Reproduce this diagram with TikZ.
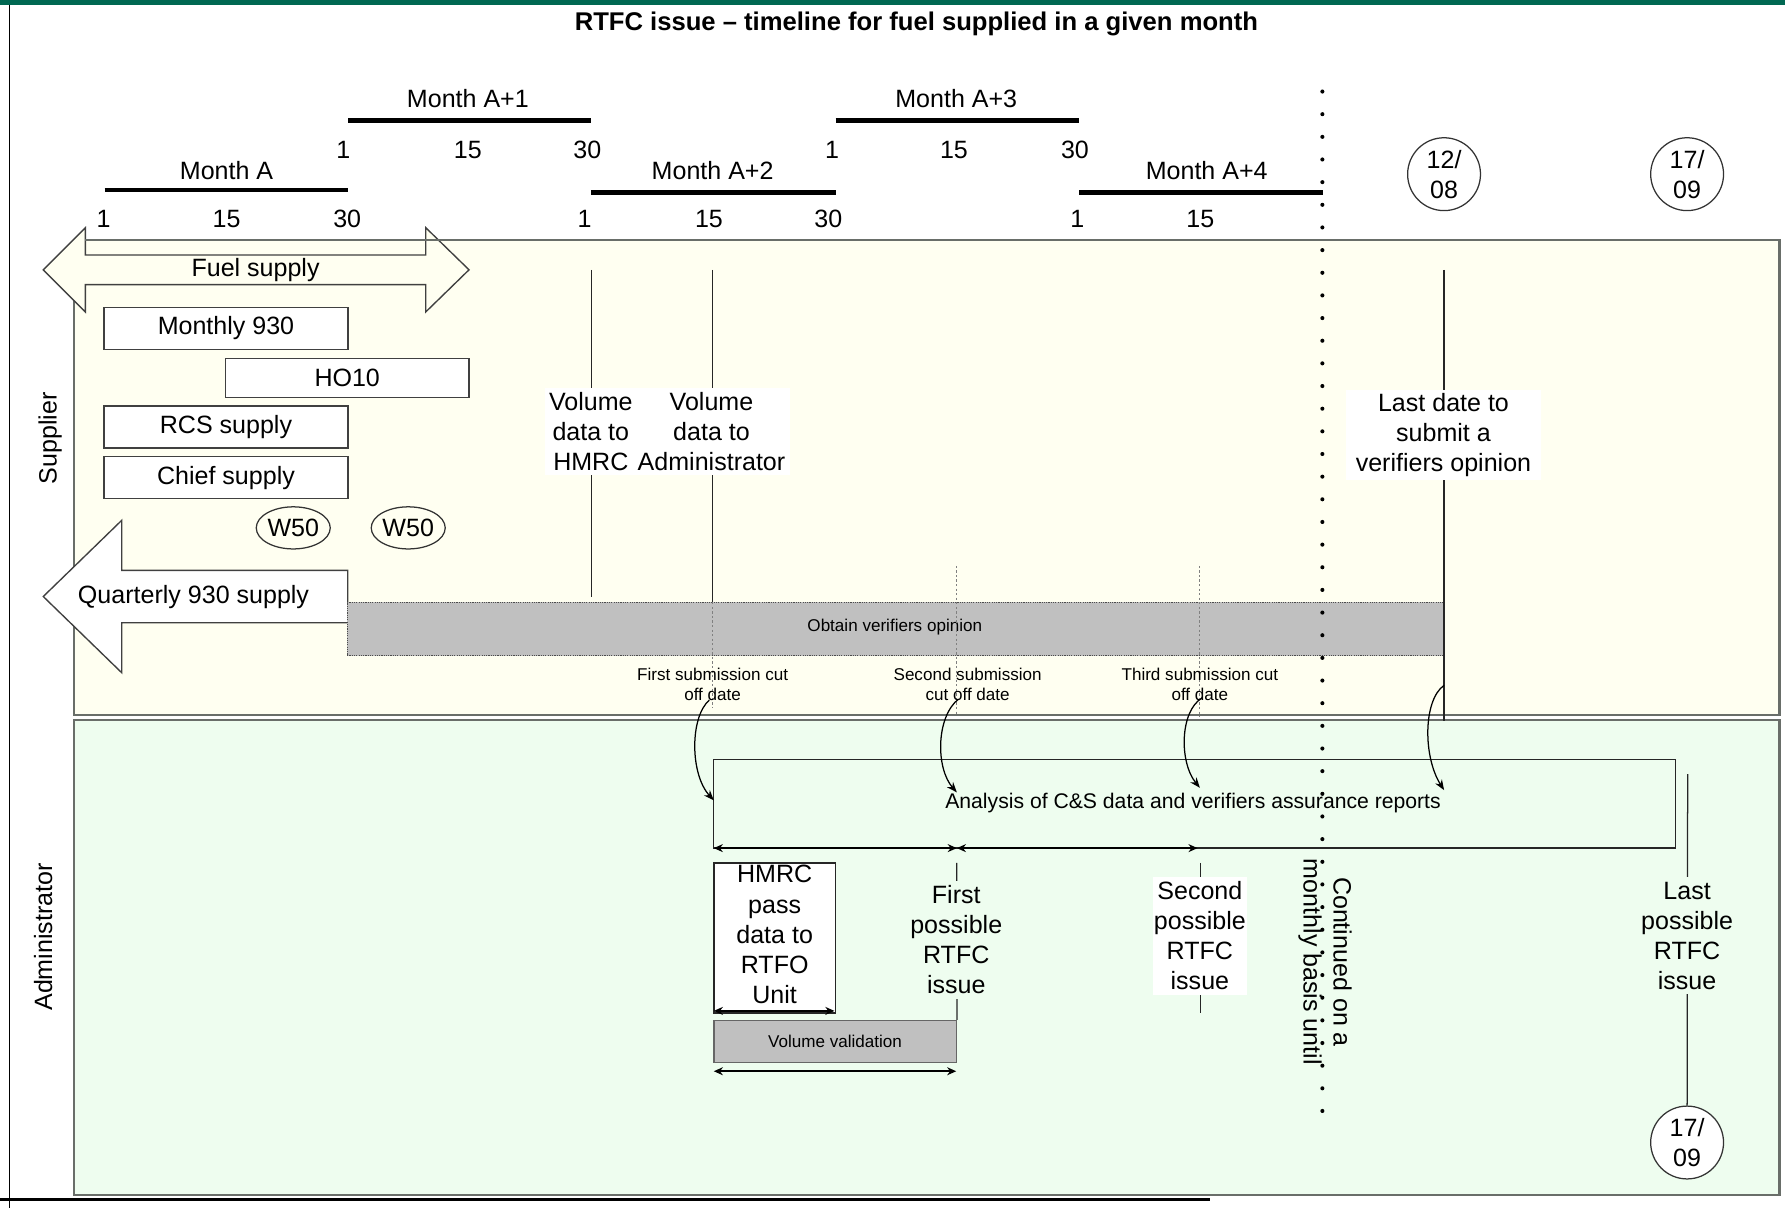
\documentclass[tikz,border=0pt]{standalone}
\usepackage{fontspec}
\setmainfont{Liberation Sans}
\usetikzlibrary{arrows.meta,shapes.geometric}
\definecolor{hdrgreen}{RGB}{0,104,82}
\definecolor{supfill}{RGB}{255,255,241}
\definecolor{admfill}{RGB}{238,253,239}
\definecolor{lanegray}{RGB}{105,110,105}
\definecolor{barfill}{RGB}{192,192,192}
\tikzset{
  lbl/.style={font=\fontsize{22}{26.5}\selectfont, inner sep=0pt, align=center},
  smalltxt/.style={font=\fontsize{15}{17.5}\selectfont, inner sep=0pt, align=center},
  midtxt/.style={font=\fontsize{18.6}{22}\selectfont, inner sep=0pt},
  lanebox/.style={draw=lanegray, line width=2.2pt, inner sep=0pt},
  monthbar/.style={line width=4pt},
  plainbox/.style={lbl, draw=black!75, line width=1.3pt, fill=white, minimum width=214pt},
  wcircle/.style={lbl, ellipse, draw=black!80, line width=1.1pt, minimum width=65pt, minimum height=37pt},
  datecircle/.style={lbl, circle, draw=black!80, line width=1.1pt, minimum size=64pt},
  blockarrow/.style={draw=black!75, line width=1.2pt},
  vline/.style={line width=1.1pt, black!85},
  cutline/.style={line width=0.8pt, gray, dash pattern=on 2pt off 2pt},
  whitelab/.style={lbl, fill=white, inner xsep=4pt, inner ysep=4pt},
  curvearr/.style={line width=1.1pt, -{Stealth[length=9pt,width=7pt]}},
  dimarrow/.style={line width=1.6pt, {Stealth[length=8pt,width=7pt]}-{Stealth[length=8pt,width=7pt]}},
  graybar/.style={fill=barfill, draw=black!70, densely dotted, line width=1pt, inner sep=0pt},
}
\begin{document}
\begin{tikzpicture}[x=1pt,y=-1pt]
\useasboundingbox (0,0) rectangle (1568,1061);
\fill[white] (0,0) rectangle (1568,1061);
% page frame
\fill[hdrgreen] (0,0) rectangle (1568,4);
\draw[line width=1pt] (8,4) -- (8,1061);
\draw[line width=2.5pt] (0,1054) -- (1063,1054);
% title
\node[font=\bfseries\fontsize{22.5}{27}\selectfont, inner sep=0pt] (title) at (805,21) {RTFC issue – timeline for fuel supplied in a given month};
% lanes
\node[lanebox, fill=supfill, minimum width=1498pt, minimum height=417pt] (suplane) at (814,419.5) {};
\node[lanebox, fill=admfill, minimum width=1498pt, minimum height=417pt] (admlane) at (814,841) {};
\node[lbl, rotate=90] (suplab) at (44,385) {Supplier};
\node[lbl, rotate=90] (admlab) at (38,823) {Administrator};
% month bars
\coordinate (mAa) at (92,167);   \coordinate (mAb) at (306,167);
\coordinate (mBa) at (306,106);  \coordinate (mBb) at (519,106);
\coordinate (mCa) at (519,169);  \coordinate (mCb) at (734,169);
\coordinate (mDa) at (734,106);  \coordinate (mDb) at (948,106);
\coordinate (mEa) at (948,169);  \coordinate (mEb) at (1162,169);
\draw[monthbar] (mAa) -- (mAb);
\draw[monthbar] (mBa) -- (mBb);
\draw[monthbar] (mCa) -- (mCb);
\draw[monthbar] (mDa) -- (mDb);
\draw[monthbar] (mEa) -- (mEb);
\node[lbl] (labA) at (199,150) {Month A};
\node[lbl] (labB) at (411,87) {Month A+1};
\node[lbl] (labC) at (626,150) {Month A+2};
\node[lbl] (labD) at (840,87) {Month A+3};
\node[lbl] (labE) at (1060,150) {Month A+4};
% day numbers
\node[lbl] (dA1) at (91,192) {1};
\node[lbl] (dA15) at (199,192) {15};
\node[lbl] (dA30) at (305,192) {30};
\node[lbl] (dB1) at (301.5,132) {1};
\node[lbl] (dB15) at (411,132) {15};
\node[lbl] (dB30) at (516,132) {30};
\node[lbl] (dC1) at (513.5,192) {1};
\node[lbl] (dC15) at (622.8,192) {15};
\node[lbl] (dC30) at (727.7,192) {30};
\node[lbl] (dD1) at (731,132) {1};
\node[lbl] (dD15) at (838,132) {15};
\node[lbl] (dD30) at (944.3,132) {30};
\node[lbl] (dE1) at (946.4,192) {1};
\node[lbl] (dE15) at (1054.4,192) {15};
% date circles
\node[datecircle] (c1208) at (1268.5,153) {12/\\08};
\node[datecircle] (c1709) at (1482,153) {17/\\09};
% fuel supply arrow
\draw[blockarrow, fill=supfill] (38,237) -- (75,200) -- (75,224) -- (374,224) -- (374,200) -- (412,237)
  -- (374,274) -- (374,250) -- (75,250) -- (75,274) -- cycle;
\coordinate (ltopa) at (75,211); \coordinate (ltopb) at (404,211);
\draw[lanegray, line width=2.2pt] (ltopa) -- (ltopb);
\node[lbl] (fuel) at (224.5,237) {Fuel supply};
% supplier boxes
\node[plainbox, minimum height=37pt] (m930) at (198.5,288.5) {Monthly 930};
\node[plainbox, minimum height=34pt] (ho10) at (305,332) {HO10};
\node[plainbox, minimum height=37pt] (rcs) at (198.5,375) {RCS supply};
\node[plainbox, minimum height=37pt] (chief) at (198.5,419.5) {Chief supply};
\node[wcircle] (w1) at (257.6,463.7) {W50};
\node[wcircle] (w2) at (358.6,463.7) {W50};
% quarterly arrow
\draw[blockarrow, fill=white] (38,524) -- (107,457) -- (107,501) -- (305.5,501) -- (305.5,547)
  -- (107,547) -- (107,591) -- cycle;
\node[lbl] (q930) at (170,524) {Quarterly 930 supply};
% obtain verifiers opinion bar
\node[graybar, minimum width=963pt, minimum height=47pt] (verbar) at (786.5,552.5) {};
\node[smalltxt] (vertxt) at (786,551) {Obtain verifiers opinion};
% vertical lines in supplier lane
\coordinate (v1t) at (519.5,237); \coordinate (v1b) at (519.5,524);
\coordinate (v2t) at (626,237);   \coordinate (v2b) at (626,529);
\coordinate (v3t) at (1268.5,237); \coordinate (v3b) at (1268.5,633);
\draw[vline] (v1t) -- (v1b);
\draw[vline] (v2t) -- (v2b);
\draw[vline] (v3t) -- (v3b);
\node[whitelab] (vhmrc) at (519,379) {Volume\\data to\\HMRC};
\node[whitelab] (vadm) at (625,379) {Volume\\data to\\Administrator};
\node[whitelab, inner xsep=9pt, inner ysep=3pt] (lastdate) at (1268,382) {Last date to\\submit a\\verifiers opinion};
% cut off lines
\coordinate (k1t) at (626,529);  \coordinate (k1b) at (626,622);
\coordinate (k2t) at (840.5,497); \coordinate (k2b) at (840.5,628);
\coordinate (k3t) at (1054,497); \coordinate (k3b) at (1054,630);
\draw[cutline] (k1t) -- (k1b);
\draw[cutline] (k2t) -- (k2b);
\draw[cutline] (k3t) -- (k3b);
\node[smalltxt] (cut1) at (626,601) {First submission cut\\off date};
\node[smalltxt] (cut2) at (850,601) {Second submission\\cut off date};
\node[smalltxt] (cut3) at (1054,601) {Third submission cut\\off date};
% analysis box
\node[draw=black!85, line width=1.2pt, minimum width=845pt, minimum height=78pt, inner sep=0pt] (ana) at (1049.5,706) {};
\node[midtxt] (anatxt) at (1048,705) {Analysis of C\&S data and verifiers assurance reports};
% curved arrows
\coordinate (a1s) at (623,615); \coordinate (a1e) at (627,703);
\coordinate (a2s) at (842,614); \coordinate (a2e) at (840.5,696);
\coordinate (a3s) at (1056,613); \coordinate (a3e) at (1054,692);
\coordinate (a4s) at (1268.5,602); \coordinate (a4e) at (1268.5,694);
\draw[curvearr] (a1s) .. controls (606,630) and (606,680) .. (a1e);
\draw[curvearr] (a2s) .. controls (822,630) and (822,675) .. (a2e);
\draw[curvearr] (a3s) .. controls (1036,625) and (1036,670) .. (a3e);
\draw[curvearr] (a4s) .. controls (1250,615) and (1250,665) .. (a4e);
% dimension arrows
\coordinate (d0) at (627,745); \coordinate (d1) at (840.5,745); \coordinate (d2) at (1052,745);
\draw[dimarrow] (d0) -- (d1);
\draw[dimarrow] (d1) -- (d2);
% HMRC box and volume validation
\node[draw=black!85, line width=1.3pt, fill=white, minimum width=107pt, minimum height=132pt, inner sep=0pt] (hmrc) at (680.5,824) {};
\node[lbl] (hmrctxt) at (680.5,821) {HMRC\\pass\\data to\\RTFO\\Unit};
\node[smalltxt, fill=barfill, draw=black!60, line width=1.3pt, minimum width=213pt, minimum height=37pt] (vv) at (733.5,915) {Volume validation};
\coordinate (h0) at (627,888); \coordinate (h1) at (733,888);
\draw[dimarrow] (h0) -- (h1);
\coordinate (g0) at (627,941); \coordinate (g1) at (840,941);
\draw[dimarrow] (g0) -- (g1);
% possible RTFC issue markers
\coordinate (p1t) at (840.5,758);
\draw[vline] (p1t) -- (vv.north east);
\node[whitelab, fill=admfill, inner xsep=1pt] (first) at (840,825.5) {First\\possible\\RTFC\\issue};
\coordinate (p2t) at (1054.5,758); \coordinate (p2b) at (1054.5,890);
\draw[vline] (p2t) -- (p2b);
\node[whitelab, inner xsep=1pt] (second) at (1054,822) {Second\\possible\\RTFC\\issue};
\node[datecircle, fill=white] (c1709b) at (1482,1003.6) {17/\\09};
\coordinate (p3t) at (1482.5,680);
\draw[vline] (p3t) -- (c1709b.north);
\node[whitelab, fill=admfill, inner xsep=1pt] (last) at (1482,822) {Last\\possible\\RTFC\\issue};
% continued text
\node[lbl, rotate=-90] (cont) at (1164,845) {Continued on a\\monthly basis until};
% dotted separator
\foreach \k in {0,...,45} \fill (1161.6,{80.4+19.9*\k}) circle (1.8pt);
\end{tikzpicture}
\end{document}
